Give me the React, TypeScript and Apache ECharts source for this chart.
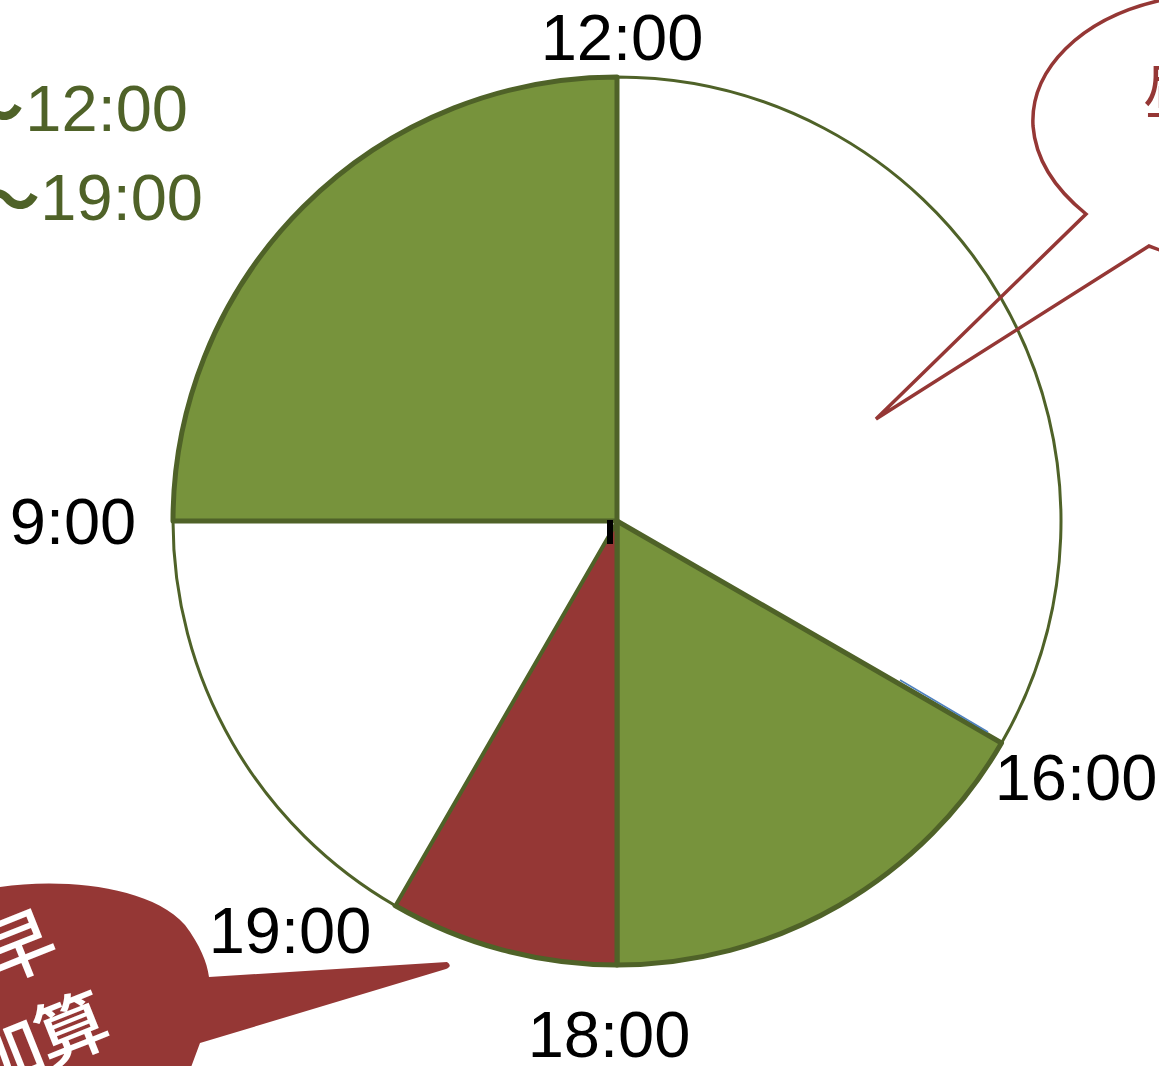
import React, { useEffect, useRef } from "react";
import * as echarts from "echarts";

// Clock-style pie: hours per segment, clockwise from 12:00
const sliceNames = ["12:00-16:00", "16:00-18:00", "18:00-19:00", "19:00-21:00", "21:00-24:00"];
const sliceHours = [4, 2, 1, 2, 3];
const sliceColors = ["#FFFFFF", "#77933C", "#953735", "#FFFFFF", "#77933C"];
const sliceBorders = [3, 5, 5, 3, 5];
const boundaryLabels = ["12:00", "16:00", "18:00", "19:00", "9:00"];
const legendTimes = ["12:00", "19:00"];
const legendTilde = "〜";
const calloutTop = "昼休み";
const calloutBottomChars = ["早", "加", "算"];

const TOP_PATH =
  "M 1162 0 C 1080 18 1030 70 1033 126 C 1036 165 1060 193 1086 214 L 876 419 L 1149 246 L 1165 252";
const BOTTOM_PATH =
  "M 0 887 C 60 878 150 885 185 925 C 200 945 207 962 209 977 L 447 962 Q 453 966 446 969 L 200 1043 L 190 1070 L 0 1070 Z";

let registered = false;
function registerShapes() {
  if (registered) return;
  registered = true;
  echarts.graphic.registerShape("bubbleTop", echarts.graphic.extendPath(TOP_PATH, {}));
  echarts.graphic.registerShape("bubbleBottom", echarts.graphic.extendPath(BOTTOM_PATH, {}));
}

export default function App() {
  const ref = useRef<HTMLDivElement>(null);
  useEffect(() => {
    if (!ref.current) return;
    registerShapes();
    const chart = echarts.init(ref.current, null, { renderer: "svg" });
    const font = "'Liberation Sans', Arial, sans-serif";
    const cjk = "'Noto Sans CJK JP', sans-serif";
    const labelPos = [
      [622, 37],
      [1076, 777],
      [609, 1034],
      [290, 930],
      [73, 521],
    ];
    const legendPos = [
      [188, 108],
      [203, 197],
    ];
    const tildePos = [
      [24, 106],
      [40, 195],
    ];
    const bottomCharPos = [
      [17, 942],
      [6, 1050],
      [70, 1024],
    ];
    const graphic: any[] = [];
    boundaryLabels.forEach((t, i) => {
      graphic.push({
        type: "text",
        x: labelPos[i][0],
        y: labelPos[i][1],
        z: 10,
        style: { text: t, fontSize: 65, fontFamily: font, fill: "#000", align: "center", verticalAlign: "middle" },
      });
    });
    legendTimes.forEach((t, i) => {
      graphic.push({
        type: "text",
        x: legendPos[i][0],
        y: legendPos[i][1],
        z: 10,
        style: { text: t, fontSize: 65, fontFamily: font, fill: "#4F6228", align: "right", verticalAlign: "middle" },
      });
      graphic.push({
        type: "text",
        x: tildePos[i][0],
        y: tildePos[i][1],
        z: 10,
        style: { text: legendTilde, fontSize: 64, fontFamily: cjk, fontWeight: "bold", fill: "#4F6228", align: "right", verticalAlign: "middle" },
      });
    });
    graphic.push({
      type: "bubbleTop",
      x: 0,
      y: 0,
      z: 20,
      style: { fill: "none", stroke: "#953735", lineWidth: 3.5 },
    });
    graphic.push({
      type: "text",
      x: 1143,
      y: 87,
      z: 20,
      style: { text: calloutTop, fontSize: 60, fontFamily: cjk, fill: "#953735", align: "left", verticalAlign: "middle" },
    });
    graphic.push({
      type: "bubbleBottom",
      x: 0,
      y: 0,
      z: 20,
      style: { fill: "#953735", stroke: "none" },
    });
    calloutBottomChars.forEach((c, i) => {
      graphic.push({
        type: "text",
        x: bottomCharPos[i][0],
        y: bottomCharPos[i][1],
        rotation: 0.38,
        z: 21,
        style: { text: c, fontSize: 72, fontFamily: cjk, fontWeight: 500, fill: "#FFFFFF", align: "center", verticalAlign: "middle" },
      });
    });
    graphic.push({
      type: "line",
      z: 5,
      shape: { x1: 900, y1: 680, x2: 988, y2: 732 },
      style: { stroke: "#4F81BD", lineWidth: 1.5 },
    });
    graphic.push({
      type: "rect",
      z: 5,
      shape: { x: 607, y: 520, width: 6, height: 24 },
      style: { fill: "#000" },
    });

    chart.setOption({
      animation: false,
      backgroundColor: "#FFFFFF",
      series: [
        {
          type: "pie",
          center: [617, 521],
          radius: 444,
          startAngle: 90,
          clockwise: true,
          label: { show: false },
          labelLine: { show: false },
          emphasis: { disabled: true },
          data: sliceHours.map((v, i) => ({
            name: sliceNames[i],
            value: v,
            itemStyle: { color: sliceColors[i], borderColor: "#4F6228", borderWidth: sliceBorders[i] },
          })),
        },
      ],
      graphic,
    });
    return () => chart.dispose();
  }, []);
  return <div ref={ref} style={{ position: "absolute", left: 0, top: 0, width: 1159, height: 1066 }} />;
}
